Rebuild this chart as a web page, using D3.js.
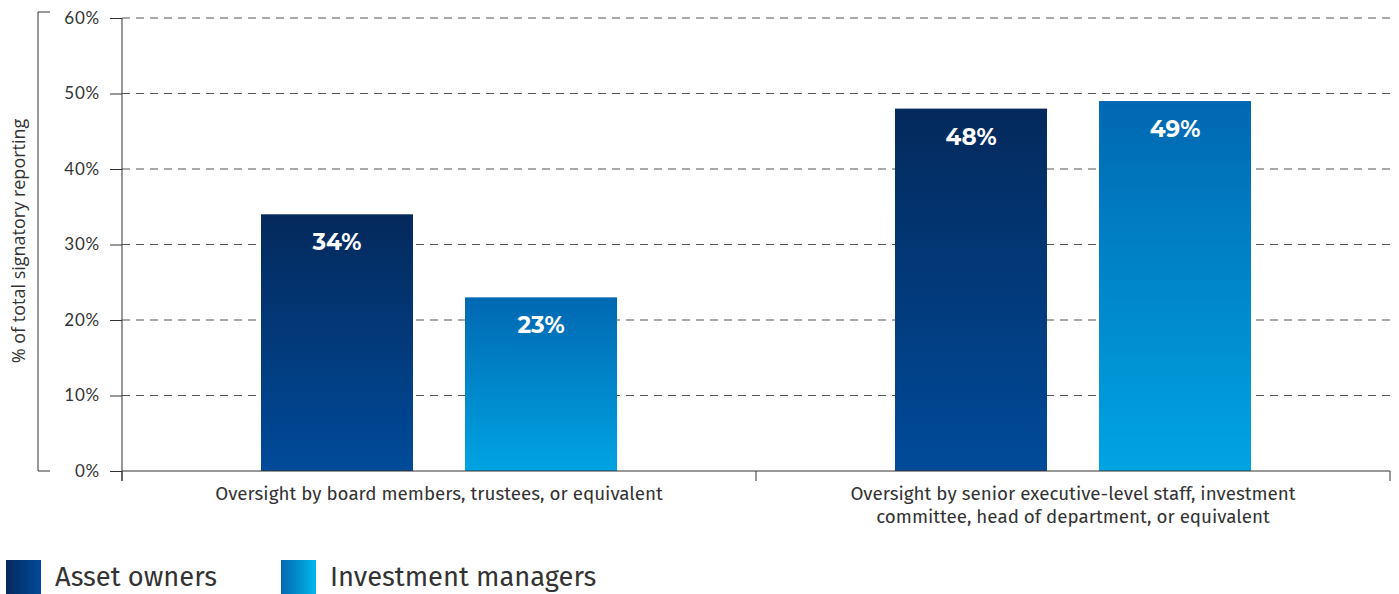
<!DOCTYPE html>
<html><head><meta charset="utf-8">
<script src="https://cdn.jsdelivr.net/npm/d3@7"></script>
<style>body{margin:0;background:#fff}svg{display:block}</style>
</head><body>
<svg id="c" width="1399" height="594"></svg>
<script>
const categories = [
  ["Oversight by board members, trustees, or equivalent"],
  ["Oversight by senior executive-level staff, investment", "committee, head of department, or equivalent"]
];
const seriesNames = ["Asset owners", "Investment managers"];
const assetOwners = [34, 48];
const investmentManagers = [23, 49];
const yTicks = [0, 10, 20, 30, 40, 50, 60];

(function(){
const svg = d3.select("#c");
const mLeft = 122, mRight = 1390, mTop = 18, mBottom = 471;
const defs = svg.append("defs");
function grad(id, c1, c2, vertical) {
  const g = defs.append("linearGradient").attr("id", id)
    .attr("x1", 0).attr("y1", 0).attr("x2", vertical ? 0 : 1).attr("y2", vertical ? 1 : 0);
  g.append("stop").attr("offset", "0%").attr("stop-color", c1);
  g.append("stop").attr("offset", "100%").attr("stop-color", c2);
}
grad("gDark", "#04295c", "#004b9a", true);
grad("gLight", "#0068b2", "#00a4e2", true);
grad("lDark", "#04295c", "#004b9a", false);
grad("lLight", "#0068b2", "#00b8ea", false);
const fills = ["url(#gDark)", "url(#gLight)"];
const legFills = ["url(#lDark)", "url(#lLight)"];

const y = d3.scaleLinear().domain([0, 60]).range([mBottom, mTop]);
const x0 = d3.scaleBand().domain(d3.range(categories.length)).range([mLeft, mRight]).padding(0);
const bw = x0.bandwidth();
const x1 = d3.scaleBand().domain(seriesNames).range([bw * 0.2192, bw * 0.7808]).paddingInner(0.255).paddingOuter(0);

svg.append("g").selectAll("line").data(yTicks.filter(d => d > 0)).join("line")
  .attr("x1", mLeft).attr("x2", mRight).attr("y1", d => y(d)).attr("y2", d => y(d))
  .attr("stroke", "#555").attr("stroke-width", 1).attr("stroke-dasharray", "8,6");

const data = [assetOwners, investmentManagers];
const gBars = svg.append("g");
seriesNames.forEach((s, si) => {
  data[si].forEach((v, ci) => {
    const bx = x0(ci) + x1(s);
    gBars.append("rect").attr("x", bx).attr("y", y(v)).attr("width", x1.bandwidth())
      .attr("height", y(0) - y(v)).attr("fill", fills[si]);
    gBars.append("text").attr("x", bx + x1.bandwidth() / 2).attr("y", y(v) + 36)
      .attr("text-anchor", "middle").attr("fill", "#fff")
      .style("font-family", "Montserrat, Lato, sans-serif").style("font-weight", "700").style("font-size", "23px")
      .text(v + "%");
  });
});

const yAxis = svg.append("g").attr("transform", `translate(${mLeft},0)`)
  .call(d3.axisLeft(y).tickValues(yTicks).tickFormat(d => d + "%").tickSize(12).tickPadding(10));
yAxis.select(".domain").remove();
yAxis.selectAll(".tick line").attr("stroke", "#333");
yAxis.selectAll("text").attr("fill", "#333").style("font-family", "Lato, sans-serif").style("font-size", "17px").style("letter-spacing", "0.8px");
svg.append("line").attr("x1", mLeft).attr("x2", mLeft).attr("y1", mTop).attr("y2", mBottom + 10).attr("stroke", "#333");

svg.append("line").attr("x1", mLeft).attr("x2", mRight).attr("y1", mBottom).attr("y2", mBottom).attr("stroke", "#333");
const xt = [x0(0), x0(1), x0(1) + bw];
svg.append("g").selectAll("line").data(xt).join("line")
  .attr("x1", d => d).attr("x2", d => d).attr("y1", mBottom).attr("y2", mBottom + 10).attr("stroke", "#333");
categories.forEach((lines, ci) => {
  const t = svg.append("text").attr("x", x0(ci) + bw / 2).attr("y", 500)
    .attr("text-anchor", "middle").attr("fill", "#333")
    .style("font-family", "'Fira Sans', 'Open Sans', sans-serif").style("font-size", "18.8px");
  lines.forEach((l, li) => t.append("tspan").attr("x", x0(ci) + bw / 2).attr("dy", li ? 23 : 0).text(l));
});

svg.append("path").attr("d", `M50,12 H38 V${mBottom} H50`).attr("fill", "none").attr("stroke", "#333");
svg.append("text").attr("transform", `translate(25,241) rotate(-90)`)
  .attr("text-anchor", "middle").attr("fill", "#333")
  .style("font-family", "'Open Sans', sans-serif").style("font-size", "18px")
  .text("% of total signatory reporting");

const legX = [6, 281];
seriesNames.forEach((s, i) => {
  svg.append("rect").attr("x", legX[i]).attr("y", 560).attr("width", 35).attr("height", 34).attr("fill", legFills[i]);
  svg.append("text").attr("x", legX[i] + 49).attr("y", 586).attr("fill", "#333")
    .style("font-family", "'Fira Sans', 'Open Sans', sans-serif").style("font-size", "27.3px").text(s);
});
})();
</script>
</body></html>
